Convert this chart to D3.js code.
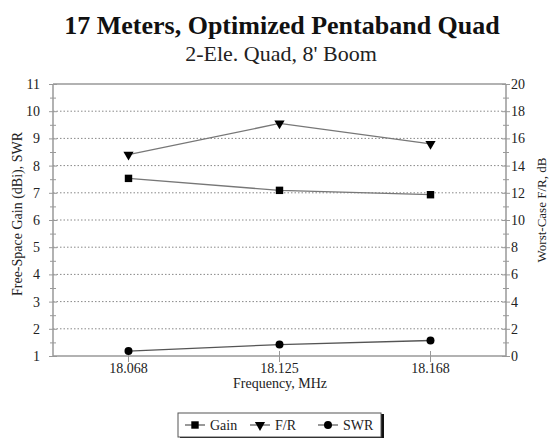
<!DOCTYPE html>
<html><head><meta charset="utf-8">
<script src="https://cdn.jsdelivr.net/npm/d3@7"></script>
<style>body{margin:0;background:#fff}svg{display:block}text{font-family:"Liberation Serif","Times New Roman",serif}</style>
</head><body><svg id="c" width="551" height="439"></svg>
<script>
const categories = ["18.068", "18.125", "18.168"];
const gain = [7.53, 7.09, 6.93];
const fr = [14.8, 17.1, 15.6];
const swr = [1.18, 1.42, 1.57];
const leftTicks = [1,2,3,4,5,6,7,8,9,10,11];
const rightTicks = [0,2,4,6,8,10,12,14,16,18,20];

const svg = d3.select("#c");
const L = 53, R = 506, T = 84, B = 356;
const x = d3.scaleBand().domain(categories).range([L, R]);
const cx = d => x(d) + x.bandwidth()/2;
const yL = d3.scaleLinear().domain([1, 11]).range([B, T]);
const yR = d3.scaleLinear().domain([0, 20]).range([B, T]);
const axisCol = "#999";
const serif = "Liberation Serif";

// title
svg.append("text").attr("x", 282).attr("y", 34).attr("text-anchor","middle")
  .attr("font-size", 26).attr("font-weight","bold").attr("fill","#111").text("17 Meters, Optimized Pentaband Quad");
svg.append("text").attr("x", 281).attr("y", 61).attr("text-anchor","middle")
  .attr("font-size", 22).attr("fill","#222").text("2-Ele. Quad, 8' Boom");

// gridlines
svg.append("g").selectAll("line").data(leftTicks.filter(v => v>1 && v<11)).join("line")
  .attr("x1", L).attr("x2", R).attr("y1", d=>yL(d)).attr("y2", d=>yL(d))
  .attr("stroke", "#888").attr("stroke-width", 1).attr("stroke-dasharray","1.5,2");
// top border
svg.append("line").attr("x1", L).attr("x2", R).attr("y1", T).attr("y2", T).attr("stroke", axisCol).attr("stroke-width",1.5);

// left axis
const gL = svg.append("g").attr("transform", `translate(${L},0)`);
gL.call(d3.axisLeft(yL).tickValues(d3.range(1, 11.01, 0.5)).tickSize(4).tickFormat(d => Number.isInteger(d) ? d : ""));
gL.selectAll(".tick line").attr("x1", -4).attr("x2", 4).attr("stroke", axisCol);
gL.selectAll(".tick").filter(d => !Number.isInteger(d)).select("line").attr("x1",-3).attr("x2",3);
gL.select(".domain").attr("stroke", axisCol).attr("stroke-width",1.5).attr("d", `M0,${T}V${B}`);
gL.selectAll("text").attr("font-size", 14).attr("font-family",serif).attr("fill","#222").attr("x",-13);

// right axis
const gR = svg.append("g").attr("transform", `translate(${R},0)`);
gR.call(d3.axisRight(yR).tickValues(d3.range(0, 20.01, 1)).tickSize(4).tickFormat(d => d % 2 === 0 ? d : ""));
gR.selectAll(".tick line").attr("x1", -4).attr("x2", 4).attr("stroke", axisCol);
gR.selectAll(".tick").filter(d => d % 2 !== 0).select("line").attr("x1",-3).attr("x2",3);
gR.select(".domain").attr("stroke", axisCol).attr("stroke-width",1.5).attr("d", `M0,${T}V${B}`);
gR.selectAll("text").attr("font-size", 14).attr("font-family",serif).attr("fill","#222").attr("x",5);

// bottom axis
const gB = svg.append("g").attr("transform", `translate(0,${B})`);
gB.call(d3.axisBottom(x).tickSize(0));
gB.select(".domain").attr("stroke", axisCol).attr("stroke-width",1.5).attr("d", `M${L},0H${R}`);
gB.selectAll(".tick line").attr("y1", -5).attr("y2", 6).attr("stroke", axisCol);
gB.selectAll("text").attr("font-size", 14).attr("font-family",serif).attr("fill","#222").attr("dy", "0.71em").attr("y", 7);

// axis titles
svg.append("text").attr("x", 280).attr("y", 388).attr("text-anchor","middle").attr("font-size", 14).attr("fill","#222").text("Frequency, MHz");
svg.append("text").attr("transform", `translate(22,214) rotate(-90)`).attr("text-anchor","middle").attr("font-size", 14).attr("fill","#222").text("Free-Space Gain (dBi), SWR");
svg.append("text").attr("transform", `translate(546,210) rotate(-90)`).attr("text-anchor","middle").attr("font-size", 13).attr("fill","#222").text("Worst-Case F/R, dB");

// series
const lineL = d3.line().x((d,i)=>cx(categories[i])).y(d=>yL(d));
const lineR = d3.line().x((d,i)=>cx(categories[i])).y(d=>yR(d));
svg.append("path").attr("d", lineL(gain)).attr("fill","none").attr("stroke","#777").attr("stroke-width",1.3);
svg.append("path").attr("d", lineR(fr)).attr("fill","none").attr("stroke","#777").attr("stroke-width",1.3);
svg.append("path").attr("d", lineL(swr)).attr("fill","none").attr("stroke","#555").attr("stroke-width",1.3);

const sq = d3.symbol().type(d3.symbolSquare).size(55);
const tri = d3.symbol().type(d3.symbolTriangle).size(45);
const circ = d3.symbol().type(d3.symbolCircle).size(50);
svg.append("g").selectAll("path").data(gain).join("path")
  .attr("transform",(d,i)=>`translate(${cx(categories[i])},${yL(d)})`).attr("d", sq).attr("fill","#000");
svg.append("g").selectAll("path").data(fr).join("path")
  .attr("transform",(d,i)=>`translate(${cx(categories[i])},${yR(d)}) rotate(180)`).attr("d", tri).attr("fill","#000");
svg.append("g").selectAll("path").data(swr).join("path")
  .attr("transform",(d,i)=>`translate(${cx(categories[i])},${yL(d)})`).attr("d", circ).attr("fill","#000");

// legend
const lg = svg.append("g").attr("transform","translate(178,413)");
lg.append("rect").attr("x",2).attr("y",1).attr("width",204).attr("height",24).attr("fill","#111");
lg.append("rect").attr("x",0).attr("y",0).attr("width",203).attr("height",24).attr("fill","#fff").attr("stroke","#555").attr("stroke-width",1);
const items = [{n:"Gain", s:sq, r:0},{n:"F/R", s:tri, r:180},{n:"SWR", s:circ, r:0}];
const offs = [7, 72, 140];
items.forEach((it,i)=>{
  const g = lg.append("g").attr("transform",`translate(${offs[i]},12)`);
  g.append("line").attr("x1",0).attr("x2",20).attr("stroke","#555").attr("stroke-width",1.2);
  g.append("path").attr("d", it.s).attr("transform",`translate(10,0) rotate(${it.r})`).attr("fill","#000");
  g.append("text").attr("x",25).attr("y",5).attr("font-size",14).attr("fill","#222").text(it.n);
});
</script></body></html>
